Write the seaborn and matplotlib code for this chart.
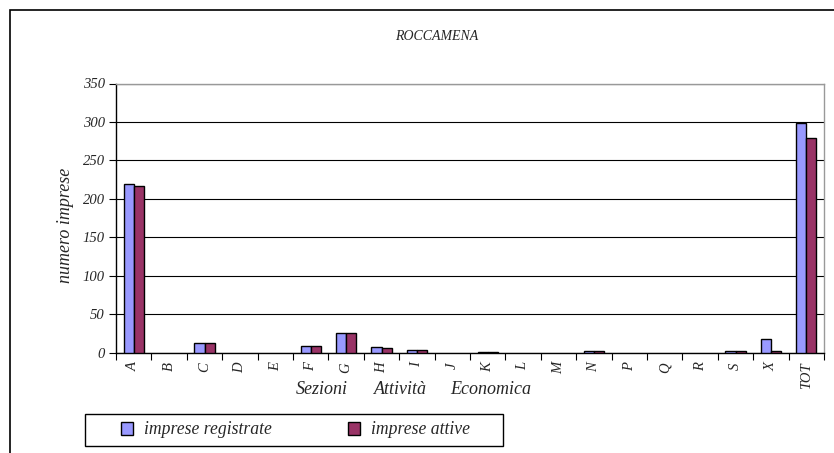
import matplotlib
matplotlib.use("Agg")
import matplotlib.pyplot as plt
import seaborn as sns
import pandas as pd
import numpy as np
from matplotlib.patches import Rectangle, Patch

categories = ["A", "B", "C", "D", "E", "F", "G", "H", "I", "J", "K", "L",
              "M", "N", "P", "Q", "R", "S", "X", "TOT"]
registrate = [219, 0, 13, 0, 0, 8, 26, 7, 3, 0, 1, 0, 0, 2, 0, 0, 0, 2, 18, 299]
attive = [217, 0, 13, 0, 0, 8, 25, 6, 3, 0, 1, 0, 0, 2, 0, 0, 0, 2, 2, 279]
series_names = ["imprese registrate", "imprese attive"]
yticks = [0, 50, 100, 150, 200, 250, 300, 350]
xlabel_words = ["Sezioni", "Attività", "Economica"]

df = pd.DataFrame({
    "cat": categories * 2,
    "val": registrate + attive,
    "serie": [series_names[0]] * len(categories) + [series_names[1]] * len(categories),
})

sns.set_theme(style="white")
plt.rcParams["font.family"] = ["Liberation Serif", "DejaVu Serif"]
plt.rcParams["font.style"] = "italic"

colors = ["#9999FF", "#993366"]
W, H = 834, 453
fig = plt.figure(figsize=(W / 100, H / 100), dpi=100)
ax = fig.add_axes([116 / W, 1 - 352.5 / H, (824 - 116) / W, (352.5 - 83.5) / H])

sns.barplot(data=df, x="cat", y="val", hue="serie", palette=colors, ax=ax,
            width=0.57, gap=0, edgecolor="black", linewidth=1.0,
            legend=False, zorder=3, saturation=1)
# hide outlines of empty bars
for p in ax.patches:
    if p.get_height() == 0:
        p.set_linewidth(0)

ax.set_ylim(0, 350)
ax.set_xlim(-0.5, len(categories) - 0.5)
ax.set_yticks(yticks)
ax.set_yticklabels([str(v) for v in yticks], fontsize=10.5, style="italic")
ax.yaxis.grid(True, color="black", linewidth=0.8, zorder=0)
ax.set_axisbelow(True)

# category boundaries as major ticks, labels on minor ticks
ax.set_xticks(np.arange(-0.5, len(categories), 1.0))
ax.set_xticklabels([])
ax.set_xticks(np.arange(len(categories)), minor=True)
ax.set_xticklabels(categories, minor=True, rotation=90, fontsize=10.5, style="italic")
ax.tick_params(axis="x", which="major", direction="out", length=5, width=0.8,
               color="black", bottom=True)
ax.tick_params(axis="x", which="minor", length=0, pad=7)
ax.tick_params(axis="y", direction="out", length=5, width=0.8, color="black", left=True, pad=3)
ax.set_xlabel("")
ax.set_ylabel("")

for s in ["left", "bottom"]:
    ax.spines[s].set_color("black")
    ax.spines[s].set_linewidth(1.0)
for s in ["top", "right"]:
    ax.spines[s].set_visible(True)
    ax.spines[s].set_color("#999999")
    ax.spines[s].set_linewidth(1.0)

# texts
fig.text(437 / W, 1 - 36 / H, "ROCCAMENA", ha="center", va="center",
         fontsize=10, style="italic")
fig.text(65 / W, 1 - 225 / H, "numero imprese", ha="center", va="center",
         rotation=90, fontsize=13, style="italic")
for word, xc in zip(xlabel_words, [321.5, 400, 491]):
    fig.text(xc / W, 1 - 389 / H, word, ha="center", va="center",
             fontsize=13, style="italic")

# outer chart border
fig.patches.append(Rectangle((10 / W, -0.1), 1.1, 1 - 10 / H + 0.1,
                             transform=fig.transFigure, fill=False,
                             edgecolor="black", linewidth=1.2))

# legend box
fig.patches.append(Rectangle((85 / W, 1 - 446 / H), (503 - 85) / W, 32 / H,
                             transform=fig.transFigure, fill=False,
                             edgecolor="black", linewidth=1.0))
handles = [Patch(facecolor=c, edgecolor="black", linewidth=1.0) for c in colors]
fig.legend(handles, series_names, loc="center left",
           bbox_to_anchor=(121 / W, 1 - 430 / H), frameon=False, ncol=2,
           handlelength=0.7, handleheight=0.7, handletextpad=0.6,
           columnspacing=4.3, borderpad=0, borderaxespad=0,
           prop={"style": "italic", "size": 12.7})

fig.savefig("out.png", dpi=100)
